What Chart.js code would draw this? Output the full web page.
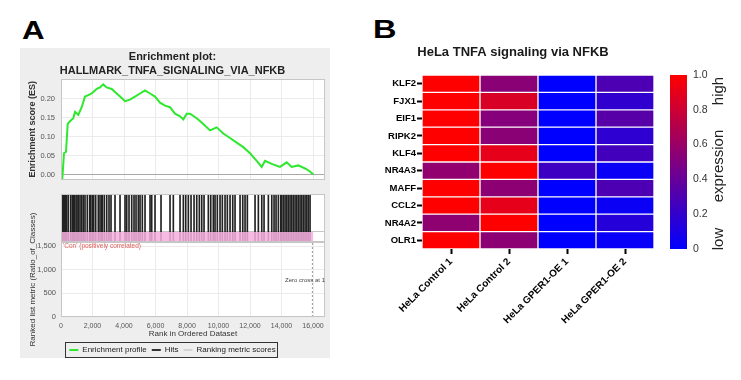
<!DOCTYPE html>
<html><head><meta charset="utf-8">
<script src="https://cdn.jsdelivr.net/npm/chart.js@4.4.1/dist/chart.umd.min.js"></script>
<style>
html,body{margin:0;padding:0;background:#fff;}
body{width:741px;height:380px;position:relative;overflow:hidden;font-family:'Liberation Sans',Arial,sans-serif;}
.abs{position:absolute;}
canvas{position:absolute;}
#panelBg{left:20px;top:48px;width:310px;height:310px;background:#eeeeee;}
.letter{font-weight:bold;line-height:1;transform-origin:0 0;transform:scaleX(1.25);color:#000;}
.rot{transform:translate(-50%,-50%) rotate(-90deg);white-space:nowrap;font-size:15px;color:#222;line-height:1;}
</style></head><body>
<div id="panelBg" class="abs"></div>
<div class="abs letter" style="left:22px;top:18px;font-size:25px;">A</div>
<div class="abs letter" style="left:373px;top:16px;font-size:26px;">B</div>
<canvas id="es" width="310" height="142" style="left:20px;top:48px"></canvas>
<canvas id="hits" width="310" height="56" style="left:20px;top:190px"></canvas>
<canvas id="rank" width="310" height="168" style="left:20px;top:190px"></canvas>
<div class="abs" style="left:63px;top:242px;font-size:6.5px;line-height:8px;color:#e05a5a;white-space:nowrap;">'Con' (positively correlated)</div>
<div class="abs" style="left:255px;width:70px;text-align:right;top:276px;font-size:6px;line-height:8px;color:#444;white-space:nowrap;">Zero cross at 1</div>
<canvas id="heat" width="332" height="340" style="left:372px;top:40px"></canvas>
<canvas id="cbar" width="81" height="340" style="left:660px;top:40px"></canvas>
<div class="abs rot" style="left:717px;top:91px;">high</div>
<div class="abs rot" style="left:717px;top:166px;">expression</div>
<div class="abs rot" style="left:717px;top:239px;">low</div>
<script>
// ---------- Panel A data ----------
const esRank = [0, 83, 190, 317, 425, 571, 781, 889, 1098, 1314,
  1524, 1733, 1949, 2267, 2476, 2686, 2902, 3219, 3536, 3854,
  4063, 4381, 4698, 5016, 5333, 5651, 5968, 6286, 6603, 6920,
  7238, 7555, 7765, 7981, 8190, 8616, 9035, 9460, 9885, 10304,
  10730, 11155, 11574, 12000, 12425, 12742, 12952, 13377, 13904, 14330,
  14647, 15066, 15492, 15809, 16019];
const esScore = [0, -0.012, 0.056, 0.060, 0.133, 0.140, 0.148, 0.165, 0.157, 0.177,
  0.205, 0.209, 0.213, 0.225, 0.229, 0.237, 0.229, 0.225, 0.213, 0.201,
  0.193, 0.197, 0.205, 0.213, 0.221, 0.213, 0.205, 0.189, 0.181, 0.177,
  0.160, 0.153, 0.145, 0.160, 0.160, 0.148, 0.133, 0.116, 0.124, 0.108,
  0.096, 0.084, 0.072, 0.056, 0.036, 0.020, 0.036, 0.028, 0.020, 0.032,
  0.020, 0.024, 0.016, 0.008, 0.0];
const hitRanks = [83, 146, 210, 273, 362, 464, 616, 718, 781, 845,
  953, 1016, 1099, 1207, 1314, 1416, 1524, 1670, 1822, 1886,
  1988, 2076, 2203, 2369, 2477, 2584, 2623, 2750, 2902, 3048,
  3175, 3429, 3747, 4064, 4172, 4318, 4489, 4636, 4763, 4909,
  5017, 5163, 5334, 5652, 5759, 5969, 6350, 6922, 7131, 7557,
  7766, 7918, 8084, 8255, 8446, 8617, 8782, 8934, 9081, 9354,
  9506, 9671, 9779, 9925, 10097, 10243, 10414, 10560, 10732, 10903,
  11049, 11367, 11538, 11684, 11830, 12319, 12529, 12745, 12891, 13164,
  13380, 13526, 13652, 13799, 13951, 14014, 14116, 14224, 14332, 14433,
  14541, 14649, 14751, 14859, 14967, 15068, 15176, 15284, 15386, 15494,
  15602, 15703, 15811];
const N_GENES = 16019;
const ZERO_CROSS = 15960;
const RANK_MAX = 16760;
const RANK_Y_MAX = 1585;
const BAND_TOP = 0.21;
const esTicks = [0, 0.05, 0.10, 0.15, 0.20];
const rankTicks = [0, 2000, 4000, 6000, 8000, 10000, 12000, 14000, 16000];
const metricTicks = [0, 500, 1000, 1500];
const legendNames = ['Enrichment profile', 'Hits', 'Ranking metric scores'];
const legendColors = ['#2ee82e', '#333333', '#d4d4d4'];

// ---------- Panel B data ----------
const genes = ['KLF2', 'FJX1', 'EIF1', 'RIPK2', 'KLF4', 'NR4A3', 'MAFF', 'CCL2', 'NR4A2', 'OLR1'];
const samples = ['HeLa Control 1', 'HeLa Control 2', 'HeLa GPER1-OE 1', 'HeLa GPER1-OE 2'];
const control1 = [1, 1, 1, 1, 1, 0.57, 1, 1, 0.56, 1];
const control2 = [0.54, 0.85, 0.52, 0.54, 0.9, 1, 0.55, 0.9, 1, 0.55];
const gper1 = [0, 0, 0, 0, 0, 0.24, 0, 0, 0, 0];
const gper2 = [0.3, 0.19, 0.34, 0.18, 0.26, 0.04, 0.3, 0.04, 0.15, 0.03];
const colorbarStops = [0, 0.5, 1];

const FONT = "'Liberation Sans', Arial, sans-serif";
Chart.defaults.font.family = FONT;
Chart.defaults.animation = false;
Chart.defaults.responsive = false;
Chart.defaults.plugins.legend.display = false;
Chart.defaults.plugins.tooltip.enabled = false;

const GREEN = legendColors[0];
const fmtInt = v => Number(v).toLocaleString('en-US');

const framePlugin = {
  id: 'frame',
  beforeDraw(chart) {
    const {ctx, chartArea: a} = chart;
    ctx.save(); ctx.fillStyle = '#ffffff'; ctx.fillRect(a.left, a.top, a.width, a.height); ctx.restore();
  },
  afterDraw(chart) {
    const {ctx, chartArea: a} = chart;
    ctx.save(); ctx.strokeStyle = '#c6c6c6'; ctx.lineWidth = 1;
    ctx.strokeRect(Math.round(a.left) + 0.5, Math.round(a.top) + 0.5, Math.round(a.width) - 1, Math.round(a.height) - 1);
    ctx.restore();
  }
};
const legendBoxPlugin = {
  id: 'legendBox',
  afterDraw(chart) {
    const lg = chart.legend;
    if (!lg || !lg.legendHitBoxes || !lg.legendHitBoxes.length) return;
    const hb = lg.legendHitBoxes;
    const l = Math.min(...hb.map(h => h.left));
    const r = Math.max(...hb.map(h => h.left + h.width));
    const t = hb[0].top, b = hb[0].top + hb[0].height;
    const ctx = chart.ctx;
    ctx.save(); ctx.strokeStyle = '#333'; ctx.lineWidth = 1;
    ctx.strokeRect(Math.round(l) - 3.5, Math.round(t) - 3.5, Math.round(r - l) + 6, Math.round(b - t) + 7);
    ctx.restore();
  }
};

// ES chart
new Chart(document.getElementById('es'), {
  type: 'line',
  data: { datasets: [{
    label: legendNames[0],
    data: esRank.map((r, i) => ({x: r, y: esScore[i]})),
    borderColor: GREEN, borderWidth: 2, pointRadius: 0, tension: 0
  }]},
  options: {
    layout: { padding: { left: 0, right: 5, top: 0, bottom: 1 } },
    plugins: {
      title: { display: true, text: ['Enrichment plot:', 'HALLMARK_TNFA_SIGNALING_VIA_NFKB'],
        font: { size: 11, weight: 'bold', lineHeight: 1.27 }, color: '#222', padding: { top: 2, bottom: 1 } }
    },
    scales: {
      x: { type: 'linear', min: 0, max: RANK_MAX,
        afterBuildTicks: s => { s.ticks = rankTicks.map(v => ({value: v})); },
        ticks: { display: false },
        grid: { color: '#ebebeb', drawTicks: false }, border: { display: false } },
      y: { min: -0.013, max: 0.2513,
        afterBuildTicks: s => { s.ticks = esTicks.map(v => ({value: v})); },
        afterFit: s => { s.width = 41; },
        ticks: { callback: v => Number(v).toFixed(2), font: { size: 7.5 }, color: '#555', padding: 6 },
        grid: { color: c => (c.tick && c.tick.value === 0) ? '#a8a8a8' : '#ebebeb', drawTicks: false },
        border: { display: false },
        title: { display: true, text: 'Enrichment score (ES)', font: { size: 9, weight: 'bold' }, color: '#333', padding: { top: 7.5, bottom: 0 } } }
    }
  },
  plugins: [framePlugin]
});

// Hits chart
new Chart(document.getElementById('hits'), {
  type: 'bar',
  data: { datasets: [
    { type: 'line', label: 'Ranked list', data: [{x: 0, y: BAND_TOP}, {x: N_GENES, y: BAND_TOP}],
      fill: 'origin', backgroundColor: 'rgba(246,176,222,0.86)', borderWidth: 0, pointRadius: 0, order: 0 },
    { type: 'bar', label: legendNames[1], data: hitRanks.map(r => ({x: r, y: 1})),
      backgroundColor: '#222', barThickness: 1, order: 1 }
  ]},
  options: {
    layout: { padding: { left: 41, right: 5, top: 4, bottom: 4 } },
    scales: {
      x: { type: 'linear', min: 0, max: RANK_MAX, offset: false, display: false },
      y: { min: 0, max: 1, display: true,
        afterBuildTicks: s => { s.ticks = [{value: BAND_TOP}]; },
        afterFit: s => { s.width = 0; },
        ticks: { display: false }, grid: { color: '#c6c6c6', drawTicks: false }, border: { display: false } }
    }
  },
  plugins: [framePlugin]
});

// Ranked list chart
new Chart(document.getElementById('rank'), {
  type: 'line',
  data: { datasets: [{
    label: 'Zero cross', data: [{x: ZERO_CROSS, y: 0}, {x: ZERO_CROSS, y: RANK_Y_MAX}],
    borderColor: '#9a9a9a', borderWidth: 1, borderDash: [2, 2], pointRadius: 0
  }]},
  options: {
    layout: { padding: { left: 0, right: 5, top: 52, bottom: 0 } },
    plugins: {
      legend: { display: true, position: 'bottom', maxHeight: 17,
        labels: { font: { size: 8 }, color: '#222', boxWidth: 9, boxHeight: 2, padding: 5,
          generateLabels: () => legendNames.map((t, i) => ({ text: t, fillStyle: legendColors[i], strokeStyle: legendColors[i], lineWidth: 0, hidden: false, fontColor: '#222' })) } }
    },
    scales: {
      x: { type: 'linear', min: 0, max: RANK_MAX,
        afterBuildTicks: s => { s.ticks = rankTicks.map(v => ({value: v})); },
        ticks: { callback: v => fmtInt(v), font: { size: 7 }, color: '#555', padding: 4.5, maxRotation: 0, autoSkip: false },
        grid: { color: '#ebebeb', drawTicks: false }, border: { display: false },
        title: { display: true, text: 'Rank in Ordered Dataset', font: { size: 8 }, color: '#333', padding: { top: 0, bottom: 2.2 } },
        afterFit: s => { s.height = 24; } },
      y: { min: 0, max: RANK_Y_MAX,
        afterBuildTicks: s => { s.ticks = metricTicks.map(v => ({value: v})); },
        ticks: { callback: v => fmtInt(v), font: { size: 7.5 }, color: '#555', padding: 5 },
        grid: { color: '#ebebeb', drawTicks: false }, border: { display: false },
        title: { display: true, text: 'Ranked list metric (Ratio_of_Classes)', font: { size: 8 }, color: '#333', padding: { top: 7.5, bottom: 0 } },
        afterFit: s => { s.width = 41; } }
    }
  },
  plugins: [framePlugin, legendBoxPlugin]
});

// ---------- Panel B ----------
const cellColor = v => `rgb(${Math.round(255 * v)},0,${Math.round(255 * (1 - v))})`;
const matrix = genes.map((g, i) => [control1[i], control2[i], gper1[i], gper2[i]]);

new Chart(document.getElementById('heat'), {
  type: 'bar',
  data: {
    labels: samples,
    datasets: genes.map((g, i) => ({
      label: g,
      data: samples.map(() => [i, i + 1]),
      backgroundColor: matrix[i].map(cellColor),
      borderColor: 'rgba(255,255,255,0.14)', borderWidth: 1, borderSkipped: false,
      barPercentage: 1, categoryPercentage: 1, grouped: false
    }))
  },
  options: {
    layout: { padding: { left: 0, right: 50, top: 0, bottom: 0 } },
    plugins: {
      title: { display: true, text: 'HeLa TNFA signaling via NFKB', font: { size: 13, weight: 'bold', lineHeight: 1.2 }, color: '#1a1a1a', padding: { top: 5, bottom: 14.4 } }
    },
    scales: {
      x: { grid: { display: true, drawOnChartArea: false, offset: false, drawTicks: true, tickLength: 5, tickWidth: 2, tickColor: '#000' },
        border: { display: false },
        ticks: { font: { size: 10, weight: 'bold' }, color: '#000', maxRotation: 45, minRotation: 45, padding: 2, autoSkip: false },
        afterFit: s => { s.height = 131; } },
      y: { min: 0, max: genes.length, reverse: true,
        afterBuildTicks: s => { s.ticks = genes.map((g, i) => ({value: i + 0.5})); },
        ticks: { callback: (v, idx) => genes[idx], font: { size: 9.5, weight: 'bold' }, color: '#000', padding: 1, autoSkip: false },
        grid: { display: true, drawOnChartArea: false, drawTicks: true, tickLength: 5, tickWidth: 2, tickColor: '#000' },
        border: { display: false },
        afterFit: s => { s.width = 50; } }
    }
  }
});

new Chart(document.getElementById('cbar'), {
  type: 'bar',
  data: { labels: [''], datasets: [{
    label: 'expression',
    data: [[0, 1]],
    backgroundColor: c => {
      const a = c.chart.chartArea;
      if (!a) return 'rgba(0,0,0,0)';
      const g = c.chart.ctx.createLinearGradient(0, a.bottom, 0, a.top);
      colorbarStops.forEach(v => g.addColorStop(v, cellColor(v)));
      return g;
    },
    barPercentage: 1, categoryPercentage: 1, borderWidth: 0
  }]},
  options: {
    layout: { padding: { left: 10, right: 0, top: 35, bottom: 131 } },
    scales: {
      x: { display: false },
      y: { position: 'right', min: 0, max: 1,
        ticks: { stepSize: 0.2, callback: v => (Math.abs(v - 1) < 1e-9 ? '1.0' : (Math.abs(v) < 1e-9 ? '0' : Number(v).toFixed(1))),
          font: { size: 10.5 }, color: '#333', padding: 6 },
        grid: { display: false, drawTicks: false }, border: { display: false },
        afterFit: s => { s.width = 54; } }
    }
  }
});
</script>
</body></html>
